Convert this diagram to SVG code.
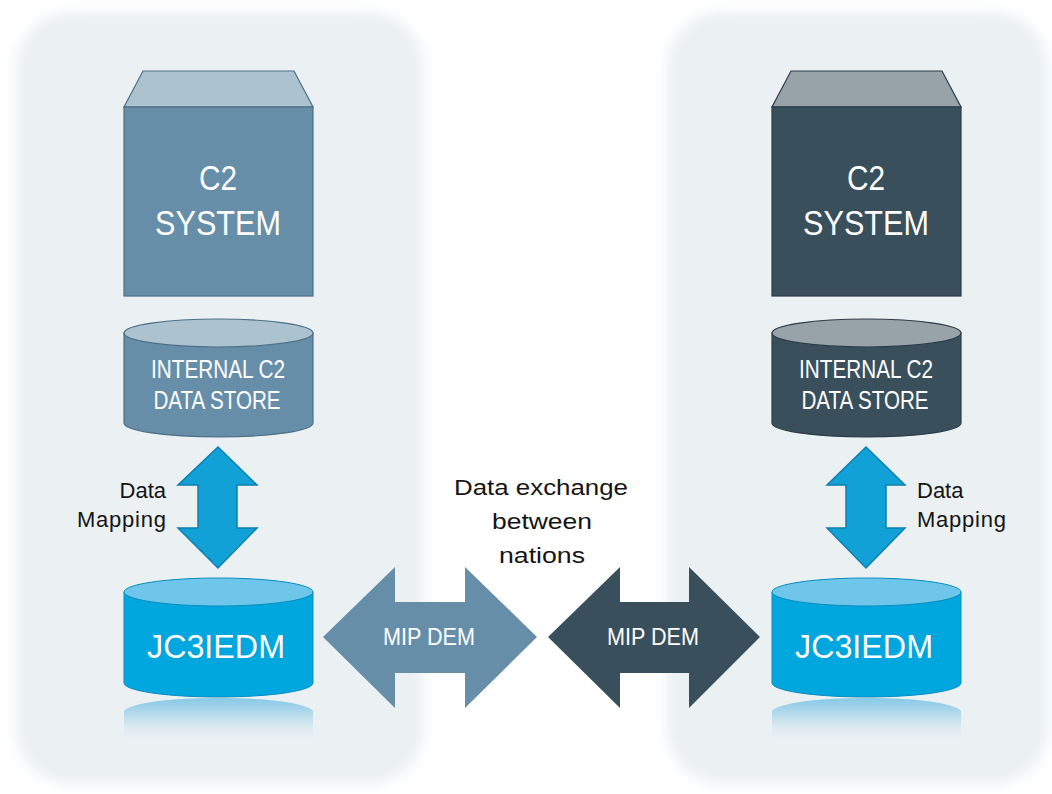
<svg xmlns="http://www.w3.org/2000/svg" width="1052" height="794" viewBox="0 0 1052 794">
<defs>
<filter id="soft" x="-10%" y="-10%" width="120%" height="120%"><feGaussianBlur stdDeviation="7"/></filter>
<linearGradient id="refl" x1="0" y1="0" x2="0" y2="1">
<stop offset="0" stop-color="#86c9e7"/>
<stop offset="0.4" stop-color="#b9dcec"/>
<stop offset="1" stop-color="#ebf0f3" stop-opacity="0"/>
</linearGradient>
<style>
.panel{fill:#ebf0f3}
.lbl{font-family:"Liberation Sans",Arial,sans-serif;fill:#ffffff;text-anchor:middle}
.cap{font-family:"Liberation Sans",Arial,sans-serif;fill:#141414;font-size:22px}
.cubeL{fill:#678ea8;stroke:#4e6f86;stroke-width:1.2}
.topL{fill:#acc3cf;stroke:#4e6f86;stroke-width:1.2}
.cubeD{fill:#3a4f5c;stroke:#2c3d48;stroke-width:1.2}
.topD{fill:#97a3a9;stroke:#2c3d48;stroke-width:1.2}
.jc{fill:#00a6de;stroke:#0a8cbd;stroke-width:1}
.jctop{fill:#6ec6ea;stroke:#0a8cbd;stroke-width:1}
.blue{fill:#12a1d6;stroke:#0b7fae;stroke-width:1.5}
</style>
</defs>
<rect width="1052" height="794" fill="#ffffff"/>
<g id="panels" filter="url(#soft)">
<rect class="panel" x="16" y="12" width="408" height="772" rx="55"/>
<rect class="panel" x="667" y="12" width="381" height="772" rx="55"/>
</g>

<g id="c2-left">
<polygon class="topL" points="143,71 294,71 313,107 124,107"/>
<rect class="cubeL" x="124" y="107" width="189" height="189"/>
<text class="lbl" x="218" y="190" font-size="35" textLength="38" lengthAdjust="spacingAndGlyphs">C2</text>
<text class="lbl" x="218" y="235" font-size="35" textLength="126" lengthAdjust="spacingAndGlyphs">SYSTEM</text>
</g>
<g id="c2-right">
<polygon class="topD" points="791,71 942,71 961,107 772,107"/>
<rect class="cubeD" x="772" y="107" width="189" height="189"/>
<text class="lbl" x="866" y="190" font-size="35" textLength="38" lengthAdjust="spacingAndGlyphs">C2</text>
<text class="lbl" x="866" y="235" font-size="35" textLength="126" lengthAdjust="spacingAndGlyphs">SYSTEM</text>
</g>

<g id="store-left">
<path class="cubeL" d="M124,333 L124,423 A94.5,14 0 0 0 313,423 L313,333 Z"/>
<ellipse class="topL" cx="218.5" cy="333" rx="94.5" ry="14"/>
<text class="lbl" x="218" y="378" font-size="25" textLength="134" lengthAdjust="spacingAndGlyphs">INTERNAL C2</text>
<text class="lbl" x="217" y="409" font-size="25" textLength="127" lengthAdjust="spacingAndGlyphs">DATA STORE</text>
</g>
<g id="store-right">
<path class="cubeD" d="M772,333 L772,423 A94.5,14 0 0 0 961,423 L961,333 Z"/>
<ellipse class="topD" cx="866.5" cy="333" rx="94.5" ry="14"/>
<text class="lbl" x="866" y="378" font-size="25" textLength="134" lengthAdjust="spacingAndGlyphs">INTERNAL C2</text>
<text class="lbl" x="865" y="409" font-size="25" textLength="127" lengthAdjust="spacingAndGlyphs">DATA STORE</text>
</g>

<g id="jc3iedm-left">
<path d="M124,712 A94.5,14 0 0 1 313,712 L313,742 L124,742 Z" fill="url(#refl)"/>
<path class="jc" d="M124,592 L124,683 A94.5,14 0 0 0 313,683 L313,592 Z"/>
<ellipse class="jctop" cx="218.5" cy="592" rx="94.5" ry="14"/>
<text class="lbl" x="216" y="658" font-size="33" textLength="138" lengthAdjust="spacingAndGlyphs">JC3IEDM</text>
</g>
<g id="jc3iedm-right">
<path d="M772,712 A94.5,14 0 0 1 961,712 L961,742 L772,742 Z" fill="url(#refl)"/>
<path class="jc" d="M772,592 L772,683 A94.5,14 0 0 0 961,683 L961,592 Z"/>
<ellipse class="jctop" cx="866.5" cy="592" rx="94.5" ry="14"/>
<text class="lbl" x="864" y="658" font-size="33" textLength="138" lengthAdjust="spacingAndGlyphs">JC3IEDM</text>
</g>

<g id="connectors">
<polygon class="blue" points="218,447 257,485 237,485 237,528 257,528 218,568 178,528 198,528 198,485 178,485"/>
<polygon class="blue" points="866,447 905,485 886,485 886,528 905,528 866,568 827,528 846,528 846,485 827,485"/>
<polygon fill="#678ea8" points="323,637 395,567 395,602 465,602 465,567 537,637 465,708 465,673 395,673 395,708"/>
<polygon fill="#3a4f5c" points="548,637 620,567 620,602 689,602 689,567 760,637 689,708 689,673 620,673 620,708"/>
<text class="lbl" x="429" y="645" font-size="23" textLength="92" lengthAdjust="spacingAndGlyphs">MIP DEM</text>
<text class="lbl" x="653" y="645" font-size="23" textLength="92" lengthAdjust="spacingAndGlyphs">MIP DEM</text>
<text class="cap" x="166" y="498" text-anchor="end">Data</text>
<text class="cap" x="166" y="527" text-anchor="end" textLength="89">Mapping</text>
<text class="cap" x="917" y="498">Data</text>
<text class="cap" x="917" y="527" textLength="89">Mapping</text>
</g>

<g id="caption">
<text class="cap" x="541" y="495" font-size="26" text-anchor="middle" textLength="174" lengthAdjust="spacingAndGlyphs">Data exchange</text>
<text class="cap" x="542" y="529" font-size="26" text-anchor="middle" textLength="100" lengthAdjust="spacingAndGlyphs">between</text>
<text class="cap" x="542" y="563" font-size="26" text-anchor="middle" textLength="86" lengthAdjust="spacingAndGlyphs">nations</text>
</g>
</svg>
